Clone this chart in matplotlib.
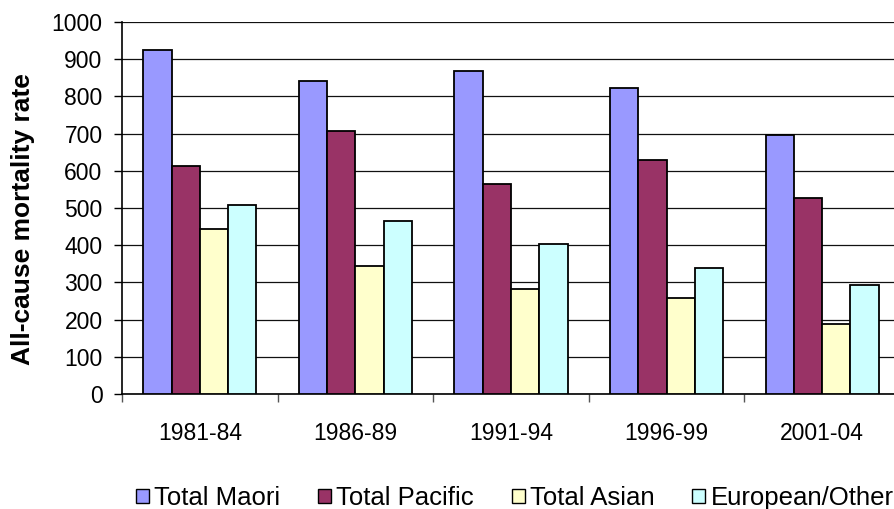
import matplotlib.pyplot as plt
import numpy as np
from matplotlib.patches import Patch

plt.rcParams['font.family'] = ['Liberation Sans', 'DejaVu Sans']

perioden = ['1981-84', '1986-89', '1991-94', '1996-99', '2001-04']
maori = [925, 842, 867, 822, 695]
pacific = [612, 706, 565, 628, 528]
asian = [444, 345, 282, 257, 188]
european = [507, 466, 403, 340, 293]

serien = ['Total Maori', 'Total Pacific', 'Total Asian', 'European/Other']
werte = [maori, pacific, asian, european]
farben = ['#9999FF', '#993366', '#FFFFCC', '#CCFFFF']

fig = plt.figure(figsize=(8.94, 5.09), dpi=100)
ax = fig.add_axes([122/894, 115/509, 778/894, 372/509])

x = np.arange(len(perioden))
breite = 0.727 / 4
for j, (name, y, c) in enumerate(zip(serien, werte, farben)):
    ax.bar(x + (j - 1.5)*breite, y, breite, color=c, edgecolor='black',
           linewidth=1.3, label=name, zorder=3)

ax.set_xlim(-0.5, len(perioden) - 0.5)
ax.set_ylim(0, 1000)
ax.set_yticks(np.arange(0, 1001, 100))
ax.yaxis.grid(True, color='#111111', linewidth=0.9, zorder=0)

# Kategorie-Trennstriche als Major-Ticks, Beschriftung über Minor-Ticks
ax.set_xticks(np.arange(-0.5, len(perioden) + 0.5, 1))
ax.set_xticklabels([])
ax.set_xticks(x, minor=True)
ax.set_xticklabels(perioden, minor=True)
ax.tick_params(axis='x', which='major', length=6, width=1, color='#555555')
ax.tick_params(axis='x', which='minor', length=0, pad=20, labelsize=16.5)
ax.tick_params(axis='y', length=6, width=1, pad=8, labelsize=16.5)

for s in ['top', 'right']:
    ax.spines[s].set_visible(False)
for s in ['left', 'bottom']:
    ax.spines[s].set_linewidth(1.2)

ax.set_ylabel('All-cause mortality rate', fontsize=19, fontweight='bold')
ax.yaxis.set_label_coords(-0.112, 0.47)

handles = [Patch(facecolor=c, edgecolor='black', linewidth=1.0) for c in farben]
fig.legend(handles, serien, loc='center left', bbox_to_anchor=(136/894, 0.0216),
           ncol=4, frameon=False, fontsize=18.5, borderpad=0, borderaxespad=0,
           handlelength=0.5, handleheight=0.5, handletextpad=0.2,
           columnspacing=1.48)

fig.savefig('out.png', dpi=100)
